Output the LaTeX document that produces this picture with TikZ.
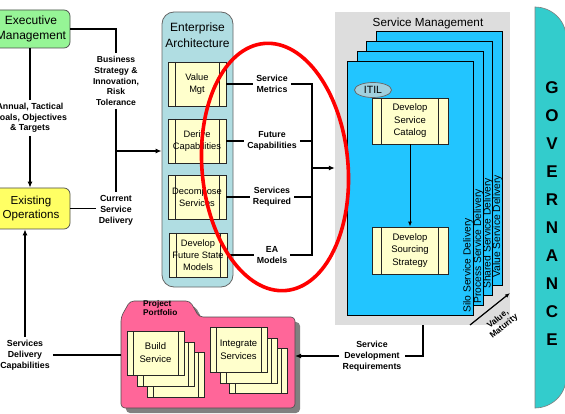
\documentclass[tikz,border=0pt]{standalone}
\usepackage{fontspec}
\setmainfont{Liberation Sans}
\usetikzlibrary{arrows.meta,shapes.geometric,calc}
\definecolor{execgreen}{RGB}{150,245,150}
\definecolor{opsyellow}{RGB}{255,255,100}
\definecolor{eablue}{RGB}{176,221,226}
\definecolor{procyellow}{RGB}{255,255,204}
\definecolor{smgray}{RGB}{221,221,221}
\definecolor{pageblue}{RGB}{34,197,255}
\definecolor{itilblue}{RGB}{160,208,222}
\definecolor{pppink}{RGB}{255,102,153}
\definecolor{govteal}{RGB}{51,204,204}
\definecolor{shadowgray}{RGB}{128,128,128}
\begin{document}
\begin{tikzpicture}[x=1pt,y=-1pt,
  conn/.style={line width=1.4pt,black},
  arr/.style={conn,-{Latex[length=6pt,width=5pt]}},
  lbl/.style={font=\fontsize{8.8}{11}\selectfont\bfseries,align=center,inner sep=3pt},
  proc/.style={draw=black!85,fill=procyellow,line width=0.8pt,inner sep=1pt,align=center,
    font=\fontsize{9.3}{12.3}\selectfont,
    path picture={\draw[line width=0.7pt] ([xshift=#1]path picture bounding box.north west) -- ([xshift=#1]path picture bounding box.south west);
                  \draw[line width=0.7pt] ([xshift=-#1]path picture bounding box.north east) -- ([xshift=-#1]path picture bounding box.south east);}},
  proc/.default=7pt,
  page/.style={draw=black,fill=pageblue,line width=0.8pt,minimum width=126pt,minimum height=254pt,inner sep=0pt},
  rottext/.style={rotate=90,anchor=west,inner sep=0pt,font=\fontsize{10.3}{12}\selectfont},
  topbox/.style={draw=black!70,line width=0.7pt,rounded corners=6pt,minimum width=78pt,align=center,inner sep=1pt}
]
\clip (0,0) rectangle (565,414);
\fill[white] (0,0) rectangle (565,414);

% Governance
\draw[fill=govteal,draw=black!50,line width=0.6pt] (535,408) -- (535,7) .. controls (551.6,7) and (566,20.4) .. (566,37) -- (566,378) .. controls (566,394.6) and (551.6,408) .. (535,408) -- cycle;
\node[font=\fontsize{17}{28}\selectfont\bfseries,align=center,inner sep=0pt] (govt) at (552,214) {G\\O\\V\\E\\R\\N\\A\\N\\C\\E};

% Service management
\node[fill=smgray,minimum width=175pt,minimum height=313pt,inner sep=0pt] (smg) at (422.5,168.5) {};
\node[font=\fontsize{11.7}{14}\selectfont,inner sep=0pt] (smt) at (428,23) {Service Management};
\node[page] (p4) at (439.5,158) {};
\node[page] (p3) at (429.5,168) {};
\node[page] (p2) at (420,178) {};
\node[page] (p1) at (410.5,188) {};
\node[rottext] (silo) at (468,313) {Silo Service Delivery};
\node[rottext] (proc) at (478.5,304) {Process Service Delivery};
\node[rottext] (shared) at (488,289) {Shared Service Delivery};
\node[rottext] (value) at (497.5,278) {Value Service Delivery};
\node[proc=9.5pt,minimum width=76pt,minimum height=46pt,font=\fontsize{9.5}{12.5}\selectfont] (dsc) at (410,121) {Develop\\Service\\Catalog};
\node[proc=9.5pt,minimum width=76pt,minimum height=47pt,font=\fontsize{9.5}{12.5}\selectfont] (dss) at (410,250.5) {Develop\\Sourcing\\Strategy};
\node[ellipse,draw=black!60,fill=itilblue,line width=0.7pt,minimum width=37pt,minimum height=15pt,inner sep=0pt,font=\fontsize{10.5}{12}\selectfont] (itil) at (373,90) {ITIL};
\draw[line width=1pt,-{Latex[length=5pt,width=4pt]}] (dsc) -- (dss);
\coordinate (vmA) at (470,325);
\coordinate (vmB) at (510,293);
\draw[line width=1.2pt,-{Latex[length=5pt,width=4pt]}] (vmA) -- (vmB);
\node[font=\fontsize{8.5}{9.5}\selectfont\bfseries,align=center,rotate=39,inner sep=0pt] (vmlbl) at (501,323) {Value,\\Maturity};

% Enterprise architecture
\node[draw=black!60,fill=eablue,line width=0.8pt,rounded corners=12pt,minimum width=71pt,minimum height=275pt,inner sep=0pt] (ea) at (197.5,149.5) {};
\node[font=\fontsize{12}{16}\selectfont,align=center,inner sep=0pt] (eat) at (197.5,35) {Enterprise\\Architecture};
\node[proc,minimum width=58pt,minimum height=44pt] (vm) at (197,84) {Value\\Mgt};
\node[proc,minimum width=58pt,minimum height=44pt] (dc) at (197,141) {Derive\\Capabilities};
\node[proc,minimum width=58pt,minimum height=44pt] (ds) at (197,197) {Decompose\\Services};
\node[proc,minimum width=58pt,minimum height=44pt] (df) at (198,255) {Develop\\Future State\\Models};

\node[lbl] (sm) at (272,84) {Service\\Metrics};
\node[lbl] (fc) at (272,141) {Future\\Capabilities};
\node[lbl] (sr) at (272,197) {Services\\Required};
\node[lbl] (eam) at (272,255) {EA\\Models};
\coordinate (busx) at (312,168);
\draw[conn] (vm.east) -- (vm.east -| sm.west);
\draw[conn] (dc.east) -- (dc.east -| fc.west);
\draw[conn] (ds.east) -- (ds.east -| sr.west);
\draw[conn] (df.east) -- (df.east -| eam.west);
\draw[conn] (sm.east) -| (eam.east -| busx) -- (eam.east);
\draw[conn] (fc.east) -- (fc.east -| busx);
\draw[conn] (sr.east) -- (sr.east -| busx);
\draw[arr] (busx) -- (busx -| smg.west);

% Left side
\node[topbox,fill=execgreen,minimum height=38pt,font=\fontsize{12}{15.5}\selectfont] (exec) at (31,29) {Executive\\Management};
\node[topbox,fill=opsyellow,minimum height=41pt,font=\fontsize{11.6}{14.5}\selectfont] (ops) at (31,208.5) {Existing\\Operations};
\node[lbl,font=\fontsize{8.8}{10.6}\selectfont\bfseries] (goals) at (30,118) {Annual, Tactical\\Goals, Objectives\\\& Targets};
\node[lbl,font=\fontsize{8.6}{10.8}\selectfont\bfseries] (strat) at (116,81) {Business\\Strategy \&\\Innovation,\\Risk\\Tolerance};
\node[lbl] (cur) at (116,210) {Current\\Service\\Delivery};
\node[lbl] (sdc) at (25,355) {Services\\Delivery\\Capabilities};
\draw[conn] (exec.south -| goals) -- (goals.north);
\draw[arr] (goals.south) -- (goals.south |- ops.north);
\draw[conn] (exec.east) -| (strat.north);
\draw[conn] (strat.south) -- (cur.north);
\coordinate (j1) at (116,151);
\draw[arr] (j1) -- (j1 -| ea.west);
\draw[conn] (ops.east) -- (ops.east -| cur.west);
\draw[arr] (sdc.north) -- (sdc.north |- ops.south);

% Project portfolio
\fill[shadowgray,rounded corners=4pt] (126,413) -- (126,322) -- (135,306) -- (195,306) -- (204,322) -- (300,322) -- (300,413) -- cycle;
\draw[fill=pppink,draw=black!70,line width=0.6pt,rounded corners=4pt] (121,408) -- (121,317) -- (130,301) -- (190,301) -- (199,317) -- (295,317) -- (295,408) -- cycle;
\node[font=\fontsize{8.3}{9.5}\selectfont\bfseries,align=left,anchor=north west,inner sep=0pt] (ppt) at (143,300) {Project\\Portfolio};
\node[proc=6pt,minimum width=57pt,minimum height=45pt] (bs3) at (175.5,374.5) {};
\node[proc=6pt,minimum width=57pt,minimum height=44pt] (bs2) at (165.5,364) {};
\node[proc=6pt,minimum width=57pt,minimum height=44pt,font=\fontsize{9.5}{13}\selectfont] (bs) at (155.5,353) {Build\\Service};
\node[proc=6pt,minimum width=58pt,minimum height=45pt] (is3) at (258,370.5) {};
\node[proc=6pt,minimum width=57pt,minimum height=45pt] (is2) at (248.5,360.5) {};
\node[proc=6pt,minimum width=57pt,minimum height=45pt,font=\fontsize{9.5}{13}\selectfont] (is) at (238.5,349.5) {Integrate\\Services};
\coordinate (ppW) at (121,355);
\coordinate (ppE) at (295,355);
\draw[conn] (sdc.east) -- (sdc.east -| ppW);
\node[lbl] (sdr) at (372,356) {Service\\Development\\Requirements};
\coordinate (sdrTop) at (423,325);
\draw[conn] (sdrTop) |- (sdr.east);
\draw[arr] (sdr.west) -- (sdr.west -| ppE);

% Red ellipse
\draw[red,line width=3.6pt,rotate around={5:(275,167)}] (275,167) ellipse [x radius=73,y radius=124];
\end{tikzpicture}
\end{document}
